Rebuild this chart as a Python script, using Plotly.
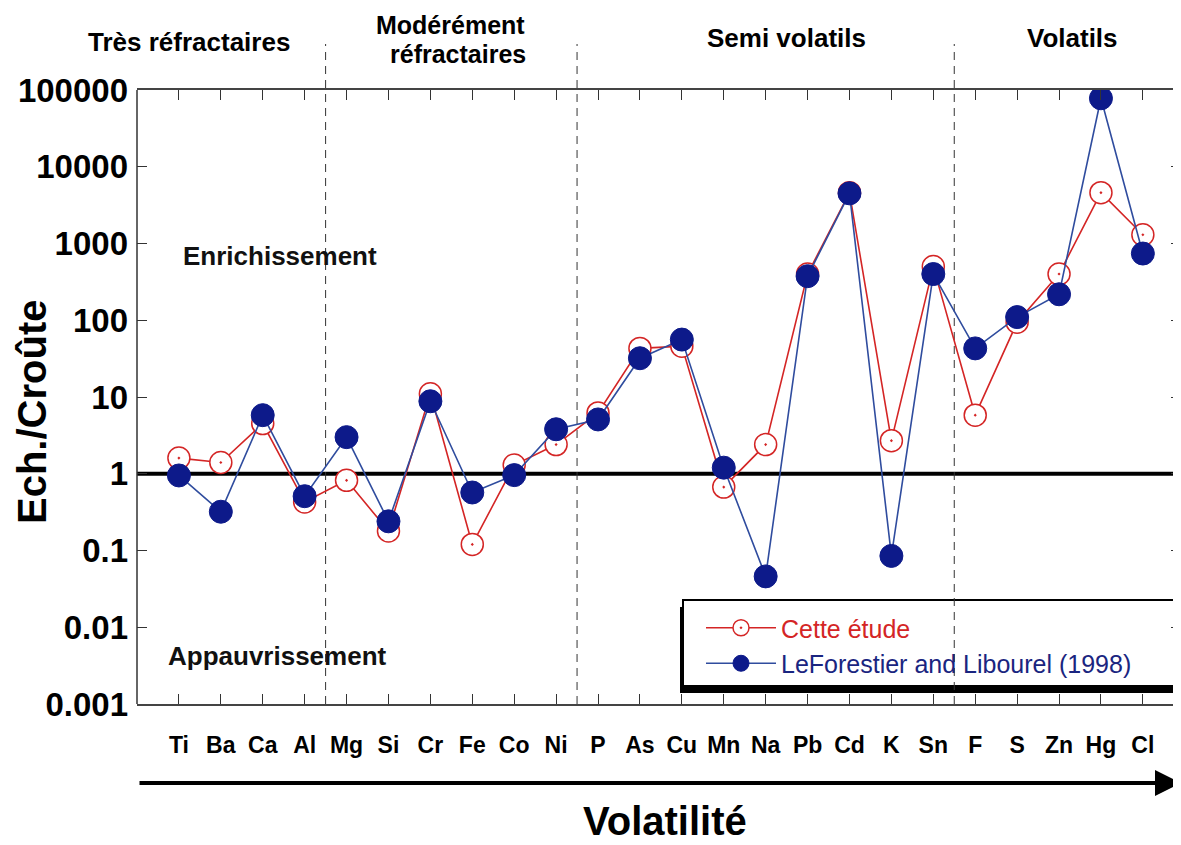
import plotly.graph_objects as go

# Elements, ordered by volatility
elements = ['Ti', 'Ba', 'Ca', 'Al', 'Mg', 'Si', 'Cr', 'Fe', 'Co', 'Ni', 'P', 'As',
            'Cu', 'Mn', 'Na', 'Pb', 'Cd', 'K', 'Sn', 'F', 'S', 'Zn', 'Hg', 'Cl']

# Ech./Croute ratios
cette_etude = [1.6, 1.4, 4.5, 0.43, 0.82, 0.18, 11, 0.12, 1.3, 2.4, 6.2, 43,
               46, 0.67, 2.4, 400, 4600, 2.7, 500, 5.8, 94, 400, 4600, 1300]
leforestier = [0.95, 0.32, 5.8, 0.51, 3.0, 0.24, 8.8, 0.57, 0.96, 3.8, 5.1, 32,
               56, 1.2, 0.046, 375, 4500, 0.085, 400, 43, 110, 218, 78000, 740]

y_ticks = [0.001, 0.01, 0.1, 1, 10, 100, 1000, 10000, 100000]
y_tick_text = ['0.001', '0.01', '0.1', '1', '10', '100', '1000', '10000', '100000']

group_bounds = [3.5, 9.5, 18.5]

RED = '#d42525'
NAVY = '#0d1a8a'
BLUE_LINE = '#2f4c9e'
BOLD = 'Liberation Sans'

# page has an 8px body margin, so screen coords = figure coords + 8
OFF = 8
W, H = 1181, 845
L, R, T = 137 - OFF, OFF, 90 - OFF
B = H - (704 - OFF)
PW, PH = W - L - R, H - T - B


def px_x(x):
    return (x - OFF - L) / PW


def px_y(y):
    return (H - B - (y - OFF)) / PH


fig = go.Figure()
fig.add_trace(go.Scatter(
    x=elements, y=cette_etude, mode='lines+markers',
    name='<span style="color:%s">Cette étude</span>' % RED,
    line=dict(color=RED, width=1.6),
    marker=dict(symbol='circle-dot', size=22, color='white',
                line=dict(color=RED, width=1.5))))
fig.add_trace(go.Scatter(
    x=elements, y=leforestier, mode='lines+markers',
    name='<span style="color:#1a2580">LeForestier and Libourel (1998)</span>',
    line=dict(color=BLUE_LINE, width=1.6),
    marker=dict(symbol='circle', size=23, color=NAVY,
                line=dict(color=NAVY, width=1))))

shapes = []
# legend box with shadow
shapes.append(dict(type='rect', xref='paper', yref='paper', layer='below',
                   x0=px_x(680), x1=1.05, y0=px_y(693), y1=px_y(607),
                   fillcolor='black', line=dict(width=0)))
shapes.append(dict(type='rect', xref='paper', yref='paper', layer='below',
                   x0=px_x(683), x1=1.05, y0=px_y(686), y1=px_y(600),
                   fillcolor='white', line=dict(color='black', width=2)))
# reference line at ratio 1
shapes.append(dict(type='line', xref='paper', yref='y', layer='below',
                   x0=0, x1=1, y0=1, y1=1, line=dict(color='black', width=4)))
# group separators
for b in group_bounds:
    shapes.append(dict(type='line', xref='x', yref='paper', layer='below',
                       x0=b, x1=b, y0=0, y1=px_y(44),
                       line=dict(color='#333333', width=1, dash='8px,6px')))
# left axis line
shapes.append(dict(type='line', xref='paper', yref='paper', x0=0, x1=0, y0=0, y1=1,
                   line=dict(color='#333333', width=1.5)))

annotations = []


def label(text, x, y, size, angle=0, color='black'):
    annotations.append(dict(text='<b>%s</b>' % text, xref='paper', yref='paper',
                            x=px_x(x), y=px_y(y), xanchor='center', yanchor='middle',
                            showarrow=False, textangle=angle,
                            font=dict(family=BOLD, size=size, color=color)))


label('Très réfractaires', 189, 42, 26)
label('Modérément', 450, 25, 25)
label('réfractaires', 458, 54, 25)
label('Semi volatils', 786, 38, 26)
label('Volatils', 1072, 38, 26)
label('Enrichissement', 280, 256, 26, color='#111111')
label('Appauvrissement', 277, 656, 26, color='#111111')
label('Ech./Croûte', 32, 412, 40, angle=-90)
label('Volatilité', 665, 821, 40)

# volatility arrow
annotations.append(dict(text='', xref='paper', yref='paper', axref='pixel', ayref='pixel',
                        x=px_x(1181), y=px_y(783), ax=-(1181 - 138), ay=0,
                        showarrow=True, arrowhead=2, arrowsize=1.3, arrowwidth=4,
                        arrowcolor='black'))

fig.update_layout(
    width=W, height=H,
    margin=dict(l=L, r=R, t=T, b=B),
    paper_bgcolor='white', plot_bgcolor='white',
    showlegend=True,
    legend=dict(x=px_x(701), y=px_y(605), xanchor='left', yanchor='top',
                bgcolor='rgba(0,0,0,0)', borderwidth=0, itemwidth=70,
                font=dict(family='Liberation Sans', size=25), tracegroupgap=0),
    shapes=shapes, annotations=annotations,
)
fig.update_xaxes(type='category', range=[-1, 23.91], showgrid=False,
                 showline=True, linecolor='#444444', linewidth=1.5, mirror='ticks',
                 ticks='inside', ticklen=10, tickwidth=1.3, tickcolor='#333333',
                 ticklabelstandoff=20,
                 tickvals=elements, ticktext=['<b>%s</b>' % e for e in elements],
                 tickfont=dict(family='Liberation Sans Narrow, Arial Narrow, Liberation Sans',
                               size=23, color='black'))
fig.update_yaxes(type='log', range=[-3, 5], showgrid=False, zeroline=False,
                 showline=False, mirror='ticks',
                 ticks='inside', ticklen=10, tickwidth=1.3, tickcolor='#333333',
                 tickvals=y_ticks, ticktext=['<b>%s</b>' % t for t in y_tick_text],
                 ticklabelstandoff=8,
                 tickfont=dict(family=BOLD, size=33, color='black'))

fig.write_html('out.html')
